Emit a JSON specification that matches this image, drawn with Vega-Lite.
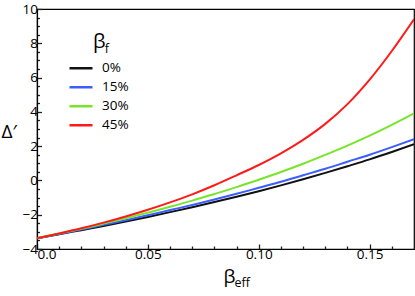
{
  "$schema": "https://vega.github.io/schema/vega-lite/v6.json",
  "width": 377,
  "height": 240,
  "autosize": {"type": "none"},
  "padding": {"left": 37, "top": 9, "right": 1, "bottom": 47},
  "background": "white",
  "config": {
    "view": {"stroke": "black", "strokeWidth": 1.2},
    "font": "Open Sans",
    "axis": {"grid": false, "labelColor": "black", "titleColor": "black", "labelFont": "Open Sans", "labelFontSize": 13.5, "titleFont": "Open Sans", "titleFontWeight": "normal"}
  },
  "datasets": {
    "curves": [
      {"x": 0.00, "d": -3.37, "bf": "0%"}, {"x": 0.01, "d": -3.14, "bf": "0%"}, {"x": 0.02, "d": -2.90, "bf": "0%"}, {"x": 0.03, "d": -2.66, "bf": "0%"}, {"x": 0.04, "d": -2.40, "bf": "0%"}, {"x": 0.05, "d": -2.13, "bf": "0%"}, {"x": 0.06, "d": -1.85, "bf": "0%"}, {"x": 0.07, "d": -1.56, "bf": "0%"}, {"x": 0.08, "d": -1.26, "bf": "0%"}, {"x": 0.09, "d": -0.95, "bf": "0%"}, {"x": 0.10, "d": -0.63, "bf": "0%"}, {"x": 0.11, "d": -0.29, "bf": "0%"}, {"x": 0.12, "d": 0.07, "bf": "0%"}, {"x": 0.13, "d": 0.44, "bf": "0%"}, {"x": 0.14, "d": 0.83, "bf": "0%"}, {"x": 0.15, "d": 1.23, "bf": "0%"}, {"x": 0.16, "d": 1.66, "bf": "0%"}, {"x": 0.17, "d": 2.11, "bf": "0%"},
      {"x": 0.00, "d": -3.37, "bf": "15%"}, {"x": 0.01, "d": -3.12, "bf": "15%"}, {"x": 0.02, "d": -2.86, "bf": "15%"}, {"x": 0.03, "d": -2.59, "bf": "15%"}, {"x": 0.04, "d": -2.32, "bf": "15%"}, {"x": 0.05, "d": -2.03, "bf": "15%"}, {"x": 0.06, "d": -1.73, "bf": "15%"}, {"x": 0.07, "d": -1.43, "bf": "15%"}, {"x": 0.08, "d": -1.11, "bf": "15%"}, {"x": 0.09, "d": -0.78, "bf": "15%"}, {"x": 0.10, "d": -0.43, "bf": "15%"}, {"x": 0.11, "d": -0.08, "bf": "15%"}, {"x": 0.12, "d": 0.30, "bf": "15%"}, {"x": 0.13, "d": 0.68, "bf": "15%"}, {"x": 0.14, "d": 1.09, "bf": "15%"}, {"x": 0.15, "d": 1.50, "bf": "15%"}, {"x": 0.16, "d": 1.94, "bf": "15%"}, {"x": 0.17, "d": 2.40, "bf": "15%"},
      {"x": 0.00, "d": -3.37, "bf": "30%"}, {"x": 0.01, "d": -3.10, "bf": "30%"}, {"x": 0.02, "d": -2.82, "bf": "30%"}, {"x": 0.03, "d": -2.52, "bf": "30%"}, {"x": 0.04, "d": -2.21, "bf": "30%"}, {"x": 0.05, "d": -1.88, "bf": "30%"}, {"x": 0.06, "d": -1.54, "bf": "30%"}, {"x": 0.07, "d": -1.18, "bf": "30%"}, {"x": 0.08, "d": -0.79, "bf": "30%"}, {"x": 0.09, "d": -0.39, "bf": "30%"}, {"x": 0.10, "d": 0.04, "bf": "30%"}, {"x": 0.11, "d": 0.49, "bf": "30%"}, {"x": 0.12, "d": 0.97, "bf": "30%"}, {"x": 0.13, "d": 1.49, "bf": "30%"}, {"x": 0.14, "d": 2.03, "bf": "30%"}, {"x": 0.15, "d": 2.61, "bf": "30%"}, {"x": 0.16, "d": 3.24, "bf": "30%"}, {"x": 0.17, "d": 3.91, "bf": "30%"},
      {"x": 0.00, "d": -3.37, "bf": "45%"}, {"x": 0.01, "d": -3.09, "bf": "45%"}, {"x": 0.02, "d": -2.79, "bf": "45%"}, {"x": 0.03, "d": -2.46, "bf": "45%"}, {"x": 0.04, "d": -2.10, "bf": "45%"}, {"x": 0.05, "d": -1.71, "bf": "45%"}, {"x": 0.06, "d": -1.28, "bf": "45%"}, {"x": 0.07, "d": -0.81, "bf": "45%"}, {"x": 0.08, "d": -0.28, "bf": "45%"}, {"x": 0.09, "d": 0.30, "bf": "45%"}, {"x": 0.10, "d": 0.90, "bf": "45%"}, {"x": 0.11, "d": 1.58, "bf": "45%"}, {"x": 0.12, "d": 2.37, "bf": "45%"}, {"x": 0.13, "d": 3.30, "bf": "45%"}, {"x": 0.14, "d": 4.45, "bf": "45%"}, {"x": 0.15, "d": 5.88, "bf": "45%"}, {"x": 0.16, "d": 7.55, "bf": "45%"}, {"x": 0.17, "d": 9.40, "bf": "45%"}
    ]
  },
  "layer": [
    {
      "mark": {"type": "rule", "color": "#555555", "strokeWidth": 1},
      "encoding": {"y": {"datum": 0, "type": "quantitative", "axis": null}}
    },
    {
      "data": {"name": "curves"},
      "mark": {"type": "line", "strokeWidth": 2, "clip": true, "interpolate": "monotone"},
      "encoding": {
        "x": {"field": "x", "type": "quantitative", "scale": {"domain": [0, 0.17], "nice": false, "zero": false},
          "axis": {"orient": "bottom", "values": [0.01, 0.02, 0.03, 0.04, 0.06, 0.07, 0.08, 0.09, 0.11, 0.12, 0.13, 0.14, 0.16], "labels": false, "tickSize": -3, "tickColor": "#222222", "tickWidth": 1.3, "domain": false, "title": "eff", "titleFontSize": 12.5, "titleAlign": "left", "titleBaseline": "alphabetic", "titleX": 197, "titleY": 37, "titleAngle": 0}},
        "y": {"field": "d", "type": "quantitative", "scale": {"domain": [-4, 10], "nice": false, "zero": false},
          "axis": {"orient": "left", "values": [-3.5, -3, -2.5, -1.5, -1, -0.5, 0.5, 1, 1.5, 2.5, 3, 3.5, 4.5, 5, 5.5, 6.5, 7, 7.5, 8.5, 9, 9.5], "labels": false, "tickSize": -2.5, "tickColor": "#222222", "tickWidth": 1.3, "domain": false, "title": null}},
        "color": {"field": "bf", "type": "nominal", "sort": ["0%", "15%", "30%", "45%"],
          "scale": {"domain": ["0%", "15%", "30%", "45%"], "range": ["#111111", "#3a5eff", "#77e52a", "#ff1a1a"]},
          "legend": {"orient": "none", "legendX": 31, "legendY": 50, "title": null, "symbolType": "stroke", "symbolSize": 529, "symbolStrokeWidth": 2.5, "labelFontSize": 13.5, "labelFont": "Open Sans", "labelColor": "black", "labelOffset": 8, "clipHeight": 18.7, "rowPadding": 0}}
      }
    },
    {
      "data": {"values": [{}]},
      "mark": {"type": "text", "text": "β", "fontSize": 20, "align": "left", "baseline": "alphabetic", "font": "Open Sans", "color": "black"},
      "encoding": {
        "x": {"datum": 0.0252, "type": "quantitative",
          "axis": {"orient": "bottom", "values": [0, 0.05, 0.1, 0.15], "labelExpr": "datum.value == 0 ? '0.0' : format(datum.value, '.2f')", "tickSize": -5, "tickColor": "#222222", "tickWidth": 1.3, "labelPadding": 3, "domain": true, "domainColor": "black", "domainWidth": 1.2, "title": "β", "titleFontSize": 19, "titleAlign": "left", "titleBaseline": "alphabetic", "titleX": 186, "titleY": 33}},
        "y": {"datum": 7.72, "type": "quantitative",
          "axis": {"orient": "left", "values": [-4, -2, 0, 2, 4, 6, 8, 10], "tickSize": -4.5, "tickColor": "#222222", "tickWidth": 1.3, "labelPadding": 4, "domain": true, "domainColor": "black", "domainWidth": 1.2, "title": "Δ′", "titleFontSize": 19, "titleAngle": 0, "titleAlign": "left", "titleBaseline": "alphabetic", "titleX": -36, "titleY": 128}}
      }
    },
    {
      "data": {"values": [{}]},
      "mark": {"type": "text", "text": "f", "fontSize": 12.5, "align": "left", "baseline": "alphabetic", "font": "Open Sans", "color": "black"},
      "encoding": {
        "x": {"datum": 0.0305, "type": "quantitative", "axis": null},
        "y": {"datum": 7.43, "type": "quantitative", "axis": null}
      }
    }
  ],
  "resolve": {"axis": {"x": "independent", "y": "independent"}}
}
